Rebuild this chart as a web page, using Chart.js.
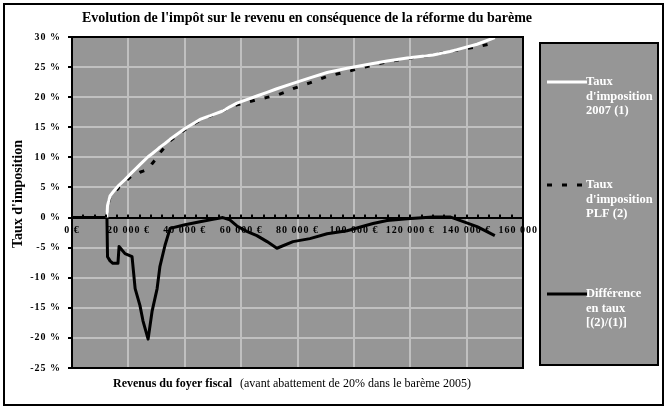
<!DOCTYPE html>
<html lang="fr">
<head>
<meta charset="UTF-8">
<title>Evolution de l'impôt sur le revenu</title>
<script src="https://cdn.jsdelivr.net/npm/chart.js"></script>
<style>
  html, body { margin: 0; padding: 0; background: #fff; }
  #graph { width: 670px; height: 410px; }
</style>
</head>
<body>
<div id="graph"><canvas id="impot" width="670" height="410"></canvas></div>
<script>
// revenus du foyer fiscal (en €)
const revenus = [0, 12400, 12600, 13500, 14500, 16300, 16700, 18800, 21300, 22400,
    24100, 25200, 27000, 28400, 30200, 31200, 33000, 34800, 40100, 45400,
    50000, 53500, 56000, 58500, 62000, 65600, 69200, 72700, 78400, 84400,
    90500, 97600, 106800, 111800, 118900, 128100, 134100, 136600, 143700, 150000];

// taux en %
const taux2007 = [null, 0, 2.0, 3.6, 4.2, 5.2, 5.4, 6.3, 7.5, 8.0,
    8.8, 9.3, 10.1, 10.6, 11.3, 11.7, 12.3, 13.0, 14.8, 16.3,
    17.1, 17.7, 18.4, 19.0, 19.6, 20.2, 20.8, 21.4, 22.3, 23.2,
    24.1, 24.8, 25.6, 26.0, 26.5, 27.0, 27.6, 27.9, 28.8, 29.9];

const tauxPLF = [null, 0, 1.87, 3.34, 3.88, 4.80, 5.14, 5.92, 7.01, 7.06,
    7.52, 7.70, 8.06, 8.95, 9.97, 10.75, 11.73, 12.77, 14.62, 16.19,
    17.05, 17.70, 18.33, 18.73, 19.15, 19.59, 19.97, 20.31, 21.41, 22.39,
    23.45, 24.25, 25.34, 25.87, 26.45, 27.03, 27.63, 27.82, 28.37, 29.00];

const difference = [0, 0, -6.5, -7.2, -7.6, -7.6, -4.8, -6.0, -6.5, -11.8,
    -14.6, -17.2, -20.2, -15.6, -11.8, -8.1, -4.6, -1.8, -1.2, -0.7,
    -0.3, 0, -0.4, -1.4, -2.3, -3.0, -4.0, -5.1, -4.0, -3.5,
    -2.7, -2.2, -1.0, -0.5, -0.2, 0.1, 0.1, -0.3, -1.5, -3.0];

// axes
const xMax = 160000, xPas = 20000, xPasMineur = 4000;
const yMin = -25, yMax = 30, yPas = 5;

const titre = "Evolution de l'impôt sur le revenu en conséquence de la réforme du barème";
const titreY = "Taux d'imposition";
const titreX = "Revenus du foyer fiscal";
const titreXSuite = "(avant abattement de 20% dans le barème 2005)";

const legende2007 = ["Taux", "d'imposition", "2007 (1)"];
const legendePLF = ["Taux", "d'imposition", "PLF (2)"];
const legendeDiff = ["Différence", "en taux", "[(2)/(1)]"];

const SERIF = '"Liberation Serif", "Times New Roman", serif';
const GRIS = '#969696';

function serie(valeurs) {
    return revenus.map((r, i) => ({ x: r, y: valeurs[i] }));
}

function euros(v) {
    if (v == 0) return '0 €';
    return (v / 1000) + ' 000 €';
}

const cadre = {
    id: 'cadre',
    beforeDraw(chart) {
        const { ctx, chartArea: a } = chart;
        ctx.save();
        ctx.fillStyle = '#fff';
        ctx.fillRect(0, 0, chart.width, chart.height);
        ctx.fillStyle = GRIS;
        ctx.fillRect(a.left, a.top, a.width, a.height);
        ctx.restore();
        // graduations espacées comme dans Excel
        ctx.letterSpacing = '1px';
    },
    afterDraw(chart) {
        const { ctx, chartArea: a } = chart;
        const sx = chart.scales.x, sy = chart.scales.y;
        ctx.letterSpacing = '0px';
        ctx.save();

        // petites graduations sur l'axe des x
        const y0 = sy.getPixelForValue(0);
        ctx.fillStyle = '#000';
        for (let v = 0; v <= xMax; v += xPasMineur) {
            const px = sx.getPixelForValue(v);
            ctx.fillRect(Math.round(px) - 1, y0 - 3, 2, 3);
        }

        // bord de la zone de traçage
        ctx.strokeStyle = '#000';
        ctx.lineWidth = 2;
        ctx.strokeRect(a.left, a.top, a.width, a.height);

        // titre
        ctx.fillStyle = '#000';
        ctx.textBaseline = 'middle';
        ctx.textAlign = 'center';
        ctx.font = 'bold 14px ' + SERIF;
        ctx.fillText(titre, 307, 18);

        // titre axe y
        ctx.save();
        ctx.translate(18, 194);
        ctx.rotate(-Math.PI / 2);
        ctx.font = 'bold 14px ' + SERIF;
        ctx.fillText(titreY, 0, 0);
        ctx.restore();

        // titre axe x
        ctx.textAlign = 'left';
        ctx.font = 'bold 12px ' + SERIF;
        ctx.fillText(titreX, 113, 384);
        ctx.font = '12px ' + SERIF;
        ctx.fillText(titreXSuite, 240, 384);

        // légende
        const lx = 540, ly = 43, lw = 118, lh = 322;
        ctx.fillStyle = GRIS;
        ctx.fillRect(lx, ly, lw, lh);
        ctx.strokeRect(lx, ly, lw, lh);
        const textes = [legende2007, legendePLF, legendeDiff];
        const positions = [82, 185, 294];
        chart.data.datasets.forEach((ds, i) => {
            const yy = positions[i];
            ctx.save();
            ctx.strokeStyle = ds.borderColor;
            ctx.lineWidth = ds.borderWidth;
            ctx.setLineDash(ds.borderDash || []);
            ctx.beginPath();
            ctx.moveTo(547, yy);
            ctx.lineTo(587, yy);
            ctx.stroke();
            ctx.restore();
            ctx.fillStyle = '#fff';
            ctx.font = 'bold 12.5px ' + SERIF;
            textes[i].forEach((t, k) => ctx.fillText(t, 586, yy + k * 14.5));
        });

        // cadre extérieur
        ctx.strokeStyle = '#000';
        ctx.lineWidth = 2;
        ctx.strokeRect(4, 4, 659, 401);
        ctx.restore();
    }
};

new Chart(document.getElementById('impot'), {
    type: 'line',
    data: {
        datasets: [{
            label: legende2007.join(' '),
            data: serie(taux2007),
            borderColor: '#fff',
            borderWidth: 3
        }, {
            label: legendePLF.join(' '),
            data: serie(tauxPLF),
            borderColor: '#000',
            borderWidth: 3,
            borderDash: [5, 10]
        }, {
            label: legendeDiff.join(' '),
            data: serie(difference),
            borderColor: '#000',
            borderWidth: 3
        }]
    },
    options: {
        responsive: false,
        animation: false,
        devicePixelRatio: 1,
        layout: { padding: { left: 0, top: 37, right: 147, bottom: 42 } },
        elements: {
            point: { radius: 0 },
            line: { tension: 0, borderJoinStyle: 'round' }
        },
        plugins: {
            legend: { display: false },
            title: { display: false },
            tooltip: { enabled: false }
        },
        scales: {
            x: {
                type: 'linear',
                min: 0,
                max: xMax,
                position: { y: 0 },
                grid: { color: '#c0c0c0', lineWidth: 2, drawTicks: false, z: -1 },
                border: { color: '#000', width: 2 },
                ticks: {
                    stepSize: xPas,
                    padding: 7,
                    maxRotation: 0,
                    autoSkip: false,
                    color: '#000',
                    font: { family: SERIF, size: 10, weight: 'bold' },
                    callback: (v) => euros(v)
                }
            },
            y: {
                min: yMin,
                max: yMax,
                grid: { color: '#c0c0c0', lineWidth: 2, tickLength: 4, tickColor: '#000', tickWidth: 2, z: -1 },
                border: { color: '#000', width: 2 },
                ticks: {
                    stepSize: yPas,
                    padding: 7,
                    color: '#000',
                    font: { family: SERIF, size: 10, weight: 'bold' },
                    callback: (v) => v + ' %'
                },
                afterFit(scale) { scale.width = 72; }
            }
        }
    },
    plugins: [cadre]
});
</script>
</body>
</html>
